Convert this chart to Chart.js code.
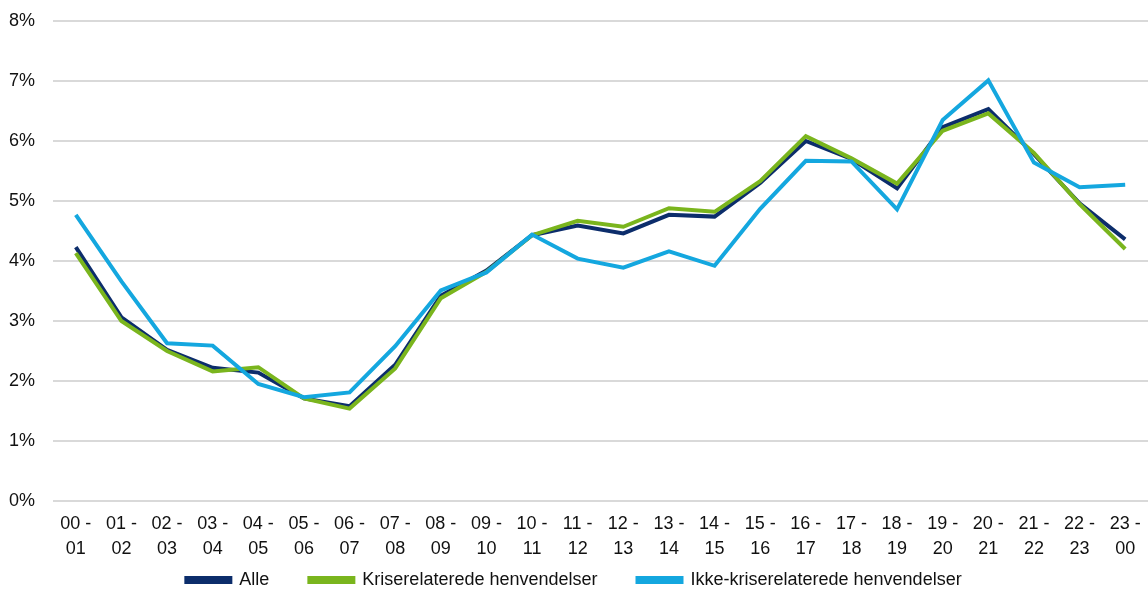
<!DOCTYPE html>
<html>
<head>
<meta charset="utf-8">
<script src="https://cdn.jsdelivr.net/npm/chart.js@4/dist/chart.umd.min.js"></script>
<style>
  html, body { margin:0; padding:0; background:#fff; }
  #wrap { width:1148px; height:597px; }
</style>
</head>
<body>
<div id="wrap"><canvas id="chart"></canvas></div>
<script>
  // Tidsintervaller (x-akse)
  const timeLabels = [
    ['00 -','01'],['01 -','02'],['02 -','03'],['03 -','04'],['04 -','05'],['05 -','06'],
    ['06 -','07'],['07 -','08'],['08 -','09'],['09 -','10'],['10 -','11'],['11 -','12'],
    ['12 -','13'],['13 -','14'],['14 -','15'],['15 -','16'],['16 -','17'],['17 -','18'],
    ['18 -','19'],['19 -','20'],['20 -','21'],['21 -','22'],['22 -','23'],['23 -','00']
  ];

  // Andel af henvendelser (%)
  const alle = [4.23, 3.06, 2.52, 2.22, 2.14, 1.71, 1.58, 2.27, 3.42, 3.84, 4.43, 4.59,
                4.46, 4.77, 4.74, 5.30, 6.00, 5.70, 5.21, 6.23, 6.53, 5.78, 4.96, 4.36];
  const krise = [4.13, 3.00, 2.50, 2.16, 2.23, 1.71, 1.54, 2.21, 3.38, 3.82, 4.43, 4.67,
                 4.57, 4.88, 4.82, 5.33, 6.08, 5.71, 5.29, 6.17, 6.46, 5.80, 4.95, 4.20];
  const ikkeKrise = [4.77, 3.66, 2.63, 2.59, 1.95, 1.73, 1.81, 2.58, 3.51, 3.81, 4.44, 4.04,
                     3.89, 4.16, 3.92, 4.87, 5.67, 5.66, 4.86, 6.35, 7.01, 5.64, 5.23, 5.27];

  const yTicksMax = 8;

  const font = { family: 'Liberation Sans, Arial, sans-serif', size: 18, lineHeight: 1.4 };
  const legendPad = 40;

  // legend takes little room in the layout but is drawn in a taller box
  const legendNudge = {
    id: 'legendNudge',
    afterLayout(chart){
      const l = chart.legend;
      l.top = 580 - 9 - legendPad;
      l.bottom = chart.height;
      l.height = l.bottom - l.top;
    }
  };

  new Chart(document.getElementById('chart'), {
    type: 'line',
    data: {
      labels: timeLabels,
      datasets: [
        { label: 'Alle', data: alle, borderColor: '#0c2d6b', backgroundColor: '#0c2d6b', order: 3 },
        { label: 'Kriserelaterede henvendelser', data: krise, borderColor: '#7ab51d', backgroundColor: '#7ab51d', order: 2 },
        { label: 'Ikke-kriserelaterede henvendelser', data: ikkeKrise, borderColor: '#14a7df', backgroundColor: '#14a7df', order: 1 }
      ]
    },
    plugins: [legendNudge],
    options: {
      responsive: true,
      maintainAspectRatio: false,
      animation: false,
      layout: { padding: 0 },
      elements: {
        line: { borderWidth: 4, tension: 0, borderJoinStyle: 'miter' },
        point: { radius: 0, hoverRadius: 0 }
      },
      scales: {
        x: {
          offset: true,
          grid: { display: false, drawTicks: false },
          border: { display: false },
          ticks: { color: '#111', font, maxRotation: 0, autoSkip: false, padding: 10 },
          afterFit: s => { s.height = 62; s.paddingLeft = 0; s.paddingRight = 0; }
        },
        y: {
          min: 0, max: yTicksMax,
          grid: { color: '#d9d9d9', lineWidth: 2, drawTicks: false },
          border: { display: false },
          ticks: { stepSize: 1, color: '#111', font, padding: 18, callback: v => v + '%' },
          afterFit: s => { s.width = 53; s.paddingTop = 21; }
        }
      },
      plugins: {
        legend: {
          position: 'bottom',
          maxHeight: 34,
          labels: {
            color: '#111', font: { family: font.family, size: 18 }, boxWidth: 44, boxHeight: 4, padding: legendPad,
            sort: (a, b) => a.datasetIndex - b.datasetIndex
          }
        },
        tooltip: { enabled: false }
      }
    }
  });
</script>
</body>
</html>
